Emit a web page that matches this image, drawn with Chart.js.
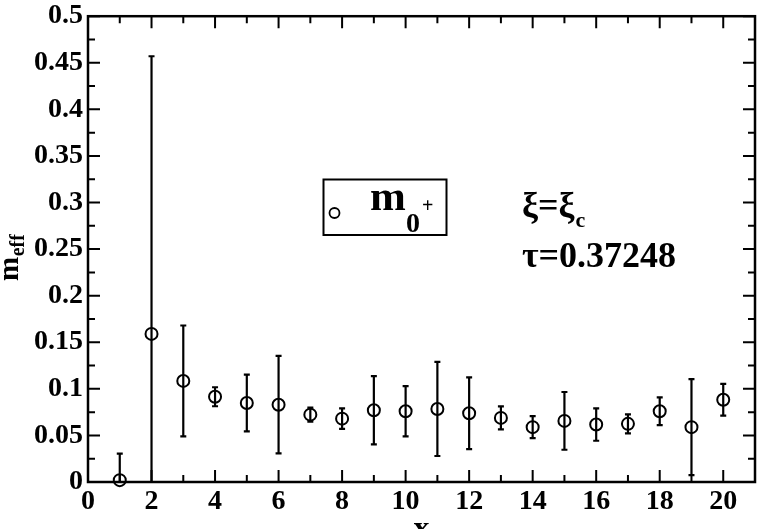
<!DOCTYPE html>
<html>
<head>
<meta charset="utf-8">
<script src="https://cdn.jsdelivr.net/npm/chart.js@4.4.1/dist/chart.umd.min.js"></script>
<style>
html,body{margin:0;padding:0;background:#fff;}
#c{display:block;}
</style>
</head>
<body>
<canvas id="c" width="763" height="529"></canvas>
<script>
// ---- data ----
const xValues = [1,2,3,4,5,6,7,8,9,10,11,12,13,14,15,16,17,18,19,20];
const mEff    = [0.002,0.159,0.1085,0.0915,0.0848,0.083,0.0723,0.068,0.077,0.0759,0.0784,0.0738,0.0688,0.0589,0.0656,0.0617,0.0624,0.0759,0.0589,0.0883];
const mErr    = [0.0285,0.298,0.0595,0.0102,0.0305,0.0523,0.0075,0.011,0.0366,0.027,0.0505,0.0385,0.0123,0.0118,0.031,0.0174,0.0101,0.0149,0.0516,0.017];
const xTicks  = [0,2,4,6,8,10,12,14,16,18,20];
const xMinor  = [1,3,5,7,9,11,13,15,17,19];
const yTicks  = [0,0.05,0.1,0.15,0.2,0.25,0.3,0.35,0.4,0.45,0.5];
const yTickLabels = ['0','0.05','0.1','0.15','0.2','0.25','0.3','0.35','0.4','0.45','0.5'];
const yMinor  = [0.025,0.075,0.125,0.175,0.225,0.275,0.325,0.375,0.425,0.475];
const legendLabel = 'm';
const annot1 = 'ξ=ξ';
const annot2 = 'τ=0.37248';

const SERIF = '"Liberation Serif","Times New Roman",serif';

const deco = {
  id: 'deco',
  beforeDatasetsDraw(chart) {
    const ctx = chart.ctx, xs = chart.scales.x, ys = chart.scales.y, a = chart.chartArea;
    // error bars (drawn through the markers)
    ctx.save();
    ctx.beginPath();
    ctx.rect(a.left, a.top, a.right - a.left, a.bottom - a.top);
    ctx.clip();
    ctx.strokeStyle = '#000';
    ctx.lineWidth = 2.2;
    const cap = 3;
    xValues.forEach((xv, i) => {
      const px = xs.getPixelForValue(xv);
      const yt = ys.getPixelForValue(mEff[i] + mErr[i]);
      const yb = ys.getPixelForValue(mEff[i] - mErr[i]);
      ctx.beginPath();
      ctx.moveTo(px, yt); ctx.lineTo(px, yb);
      ctx.moveTo(px - cap, yt); ctx.lineTo(px + cap, yt);
      ctx.moveTo(px - cap, yb); ctx.lineTo(px + cap, yb);
      ctx.stroke();
    });
    ctx.restore();
  },
  afterDraw(chart) {
    const ctx = chart.ctx, xs = chart.scales.x, ys = chart.scales.y, a = chart.chartArea;
    ctx.save();
    ctx.strokeStyle = '#000';
    // frame
    ctx.lineWidth = 2.5;
    ctx.strokeRect(a.left, a.top, a.right - a.left, a.bottom - a.top);
    // tick marks (inward, all four sides)
    ctx.lineWidth = 2;
    const major = 12, minor = 7;
    ctx.beginPath();
    xTicks.forEach(v => { const p = xs.getPixelForValue(v);
      ctx.moveTo(p, a.bottom); ctx.lineTo(p, a.bottom - major);
      ctx.moveTo(p, a.top); ctx.lineTo(p, a.top + major); });
    xMinor.forEach(v => { const p = xs.getPixelForValue(v);
      ctx.moveTo(p, a.bottom); ctx.lineTo(p, a.bottom - minor);
      ctx.moveTo(p, a.top); ctx.lineTo(p, a.top + minor); });
    yTicks.forEach(v => { const p = ys.getPixelForValue(v);
      ctx.moveTo(a.left, p); ctx.lineTo(a.left + major, p);
      ctx.moveTo(a.right, p); ctx.lineTo(a.right - major, p); });
    yMinor.forEach(v => { const p = ys.getPixelForValue(v);
      ctx.moveTo(a.left, p); ctx.lineTo(a.left + minor, p);
      ctx.moveTo(a.right, p); ctx.lineTo(a.right - minor, p); });
    ctx.stroke();

    ctx.fillStyle = '#000';
    // x title
    ctx.font = 'bold 32px ' + SERIF;
    ctx.textAlign = 'center';
    ctx.textBaseline = 'alphabetic';
    ctx.fillText('x', xs.getPixelForValue(10.5), 538);

    // y title m_eff (rotated)
    ctx.save();
    ctx.translate(18, 281);
    ctx.rotate(-Math.PI / 2);
    ctx.textAlign = 'left';
    ctx.font = 'bold 29px ' + SERIF;
    ctx.fillText('m', 0, 0);
    const mw = ctx.measureText('m').width;
    ctx.font = 'bold 20px ' + SERIF;
    ctx.fillText('eff', mw + 0.5, 6);
    ctx.restore();

    // legend box
    ctx.lineWidth = 2;
    ctx.strokeRect(323.5, 179.5, 123, 55.5);
    ctx.beginPath();
    ctx.arc(334.5, 213, 5, 0, Math.PI * 2);
    ctx.lineWidth = 1.8;
    ctx.stroke();
    ctx.textAlign = 'left';
    ctx.font = 'bold 43px ' + SERIF;
    ctx.fillText(legendLabel, 370, 210);
    ctx.font = 'bold 28px ' + SERIF;
    ctx.fillText('0', 406, 232);
    ctx.font = 'bold 20px ' + SERIF;
    ctx.fillText('+', 422, 212);

    // annotations
    ctx.font = 'bold 36px ' + SERIF;
    ctx.fillText(annot1, 522, 217);
    const w1 = ctx.measureText(annot1).width;
    ctx.font = 'bold 22px ' + SERIF;
    ctx.fillText('c', 522 + w1 + 1, 227);
    ctx.font = 'bold 36px ' + SERIF;
    ctx.fillText(annot2, 522, 267);
    ctx.restore();
  }
};

new Chart(document.getElementById('c'), {
  type: 'scatter',
  data: {
    datasets: [{
      label: 'm0+',
      data: xValues.map((x, i) => ({ x: x, y: mEff[i] })),
      pointStyle: 'circle',
      pointRadius: 6,
      pointHoverRadius: 6,
      pointBorderWidth: 2,
      pointBackgroundColor: 'rgba(0,0,0,0)',
      pointBorderColor: '#000',
      showLine: false,
      clip: false
    }]
  },
  options: {
    responsive: false,
    animation: false,
    devicePixelRatio: 1,
    layout: { padding: { top: 12, right: 2, left: 0, bottom: 0 } },
    plugins: { legend: { display: false }, tooltip: { enabled: false } },
    scales: {
      x: {
        type: 'linear', min: 0, max: 21,
        grid: { display: false, drawTicks: false },
        border: { display: false },
        afterBuildTicks: s => { s.ticks = xTicks.map(v => ({ value: v })); },
        afterFit: s => { s.height = 47; },
        ticks: {
          color: '#000', padding: 8,
          font: { family: SERIF, weight: 'bold', size: 28, lineHeight: 0.85 },
          maxRotation: 0, autoSkip: false
        }
      },
      y: {
        type: 'linear', min: 0, max: 0.5,
        grid: { display: false, drawTicks: false },
        border: { display: false },
        afterBuildTicks: s => { s.ticks = yTicks.map(v => ({ value: v })); },
        afterFit: s => { s.width = 88; },
        ticks: {
          color: '#000', padding: 5, autoSkip: false,
          font: { family: SERIF, weight: 'bold', size: 28, lineHeight: 0.8 },
          callback: (v, i) => yTickLabels[i]
        }
      }
    }
  },
  plugins: [deco]
});
</script>
</body>
</html>
